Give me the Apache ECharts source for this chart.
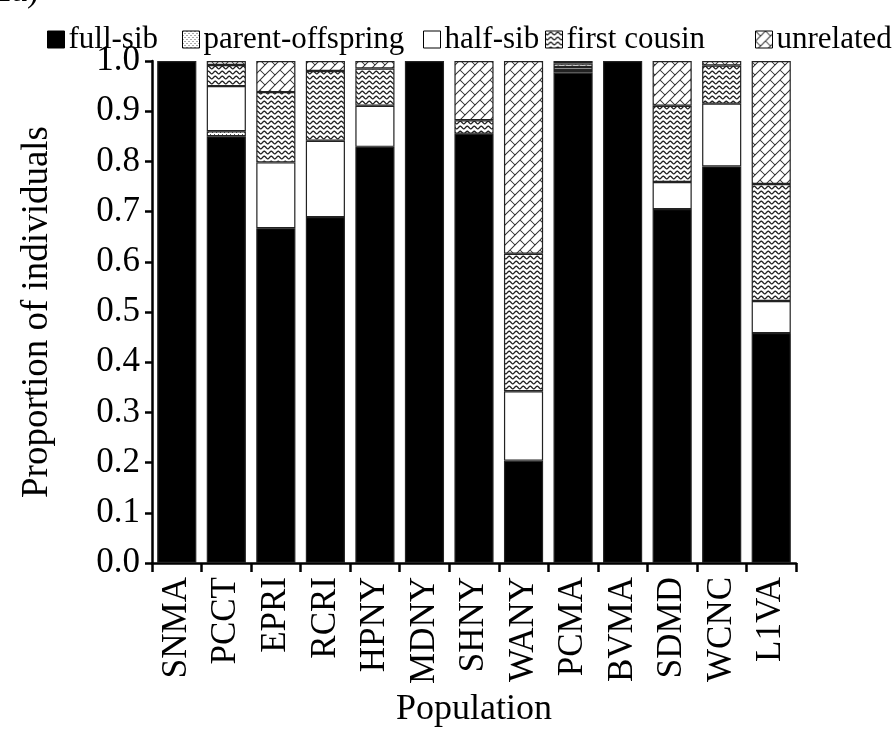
<!DOCTYPE html>
<html>
<head>
<meta charset="utf-8">
<script src="https://cdn.jsdelivr.net/npm/echarts@6/dist/echarts.min.js"></script>
<style>
html,body{margin:0;padding:0;background:#fff;}
#chart{width:892px;height:733px;}
</style>
</head>
<body>
<div id="chart"></div>
<script>
// ---- data ----
const categories = ['SNMA','PCCT','EPRI','RCRI','HPNY','MDNY','SHNY','WANY','PCMA','BVMA','SDMD','WCNC','L1VA'];
const seriesNames = ['full-sib','parent-offspring','half-sib','first cousin','unrelated'];
const fullSib         = [1.000, 0.850, 0.667, 0.689, 0.829, 1.000, 0.855, 0.204, 0.977, 1.000, 0.705, 0.790, 0.458];
const parentOffspring = [0,     0.010, 0,     0,     0,     0,     0,     0,     0.005, 0,     0,     0,     0    ];
const halfSib         = [0,     0.090, 0.131, 0.152, 0.082, 0,     0,     0.138, 0.006, 0,     0.054, 0.125, 0.064];
const firstCousin     = [0,     0.042, 0.140, 0.139, 0.074, 0,     0.027, 0.274, 0.007, 0,     0.152, 0.076, 0.233];
const unrelated       = [0,     0.008, 0.062, 0.020, 0.015, 0,     0.118, 0.384, 0.005, 0,     0.089, 0.009, 0.245];
const yTickLabels = ['0.0','0.1','0.2','0.3','0.4','0.5','0.6','0.7','0.8','0.9','1.0'];

// ---- patterns ----
function makeCanvas(w, h, draw) {
  const c = document.createElement('canvas');
  c.width = w; c.height = h;
  const ctx = c.getContext('2d');
  ctx.fillStyle = '#fff';
  ctx.fillRect(0, 0, w, h);
  draw(ctx, w, h);
  return c;
}
const dotsCanvas = makeCanvas(4, 4, (ctx) => {
  ctx.fillStyle = '#555';
  ctx.fillRect(0, 0, 1, 1);
  ctx.fillRect(2, 2, 1, 1);
});
const waveCanvas = makeCanvas(7, 5, (ctx, w, h) => {
  ctx.strokeStyle = '#222';
  ctx.lineWidth = 1.3;
  ctx.beginPath();
  for (let x = -1; x <= w + 1; x += 0.25) {
    const y = 2.5 + 1.3 * Math.sin(2 * Math.PI * x / w);
    if (x === -1) ctx.moveTo(x, y); else ctx.lineTo(x, y);
  }
  ctx.stroke();
});
const brickCanvas = makeCanvas(20, 20, (ctx, w, h) => {
  const r = Math.SQRT1_2;
  const s = 20 * r;          // lattice step in rotated space
  const hh = s / 2, ww = s;  // brick height / length
  ctx.setTransform(r, -r, r, r, 0, 0);
  ctx.strokeStyle = '#333';
  ctx.lineWidth = 1;
  ctx.beginPath();
  for (let k = -8; k <= 8; k++) {
    ctx.moveTo(-60, k * hh); ctx.lineTo(60, k * hh);
    const off = (((k % 2) + 2) % 2) * ww / 2;
    for (let j = -8; j <= 8; j++) {
      const u = j * ww + off;
      ctx.moveTo(u, k * hh); ctx.lineTo(u, (k + 1) * hh);
    }
  }
  ctx.stroke();
  ctx.setTransform(1, 0, 0, 1, 0, 0);
});

const fills = [
  '#000',
  { image: dotsCanvas, repeat: 'repeat' },
  '#fff',
  { image: waveCanvas, repeat: 'repeat' },
  { image: brickCanvas, repeat: 'repeat' }
];
const valueArrays = [fullSib, parentOffspring, halfSib, firstCousin, unrelated];

const FONT = '"Liberation Serif", "Times New Roman", serif';

const series = seriesNames.map((name, i) => ({
  name: name,
  type: 'bar',
  stack: 'total',
  barCategoryGap: '21%',
  data: valueArrays[i].map(v => (v === 0 ? null : v)),
  itemStyle: { color: fills[i], borderColor: '#222', borderWidth: 1.2 },
  emphasis: { disabled: true },
  animation: false
}));

// legends placed individually
const legendLefts = [42, 177, 418, 540, 750];
const legends = seriesNames.map((name, i) => ({
  data: [name],
  left: legendLefts[i],
  top: 19,
  itemWidth: 17,
  itemHeight: 17,
  itemGap: 0,
  icon: 'rect',
  itemStyle: { borderColor: '#000', borderWidth: 1 },
  textStyle: { fontFamily: FONT, fontSize: 31, color: '#000', padding: [0,0,0,-1] },
  selectedMode: false
}));

const chart = echarts.init(document.getElementById('chart'), null, { renderer: 'canvas' });
chart.setOption({
  backgroundColor: '#fff',
  animation: false,
  legend: legends,
  graphic: [{
    type: 'text', left: -6, top: -26,
    style: { text: '2a)', font: '35px ' + FONT, fill: '#000' }
  }],
  grid: { left: 152, right: 96, top: 61, bottom: 170, containLabel: false },
  xAxis: {
    type: 'category',
    data: categories,
    name: 'Population',
    nameLocation: 'middle',
    nameGap: 117,
    nameTextStyle: { fontFamily: FONT, fontSize: 36, color: '#000' },
    axisLine: { lineStyle: { color: '#000', width: 2.5 } },
    axisTick: { show: true, alignWithLabel: false, length: 9, lineStyle: { color: '#000', width: 2.5 } },
    axisLabel: { rotate: 90, margin: 14, fontFamily: FONT, fontSize: 35, color: '#000', interval: 0 }
  },
  yAxis: {
    type: 'value',
    min: 0, max: 1, interval: 0.1,
    name: 'Proportion of individuals',
    nameLocation: 'middle',
    nameGap: 96,
    nameTextStyle: { fontFamily: FONT, fontSize: 37, color: '#000' },
    axisLine: { show: true, lineStyle: { color: '#000', width: 2.5 } },
    axisTick: { show: true, length: 7, lineStyle: { color: '#000', width: 2.5 } },
    splitLine: { show: false },
    axisLabel: {
      margin: 12, fontFamily: FONT, fontSize: 35, color: '#000',
      formatter: (v) => yTickLabels[Math.round(v * 10)]
    }
  },
  series: series
});
</script>
</body>
</html>
